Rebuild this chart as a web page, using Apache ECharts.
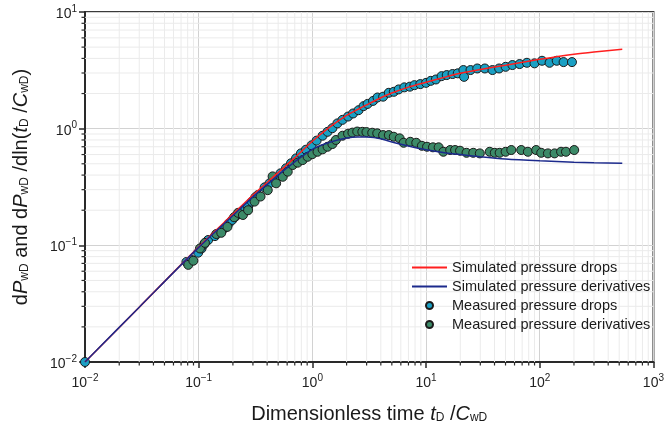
<!DOCTYPE html>
<html><head><meta charset="utf-8">
<script src="https://cdn.jsdelivr.net/npm/echarts@6/dist/echarts.min.js"></script>
<style>html,body{margin:0;padding:0;background:#fff}#c{width:667px;height:435px}</style>
</head><body><div id="c"></div><script>
// ---- data ----
const simX     = [0.01, 0.03, 0.1, 0.2, 0.3, 0.5, 0.7, 1, 1.4, 2, 2.5, 3, 4, 5, 7, 10, 15, 20, 30, 50, 100, 200, 300, 532];
const simDrop  = [0.01, 0.0295, 0.097, 0.185, 0.27, 0.42, 0.565, 0.78, 1.02, 1.3, 1.46, 1.6, 1.84, 2.02, 2.27, 2.5, 2.78, 2.98, 3.22, 3.5, 3.93, 4.35, 4.55, 4.79];
const simDeriv = [0.01, 0.0295, 0.096, 0.18, 0.26, 0.40, 0.52, 0.665, 0.76, 0.83, 0.85, 0.848, 0.82, 0.77, 0.71, 0.66, 0.62, 0.60, 0.575, 0.55, 0.53, 0.515, 0.51, 0.505];

const dropX = [0.01, 0.078, 0.0867, 0.099, 0.106, 0.112, 0.121, 0.139, 0.161, 0.172, 0.184, 0.197, 0.21, 0.225, 0.241, 0.257, 0.272, 0.294, 0.315, 0.332,
  0.38, 0.42, 0.465, 0.524, 0.586, 0.649, 0.718, 0.793, 0.877, 0.984, 1.09, 1.23, 1.36, 1.50,
  1.66, 1.84, 2.06, 2.28, 2.55, 2.82, 3.06, 3.42, 3.74, 4.19, 4.70, 5.20, 5.74, 6.44, 7.20, 7.9, 8.9, 10.0, 11.0, 12.2, 13.7, 15.2, 17.1, 19.0,
  21.3, 21.6, 24.6, 28.2, 32.9, 38.4, 43.9, 50.1, 57.5, 66.5, 77.1, 89.9, 104.7, 122, 141, 162, 192];
const dropY = [0.01, 0.072, 0.0748, 0.0865, 0.094, 0.1025, 0.111, 0.12, 0.135, 0.1425, 0.154, 0.165, 0.176, 0.185, 0.194, 0.204, 0.214, 0.237, 0.258, 0.27,
  0.314, 0.34, 0.375, 0.414, 0.457, 0.505, 0.556, 0.614, 0.66, 0.72, 0.79, 0.87, 0.94, 1.01,
  1.11, 1.19, 1.27, 1.35, 1.44, 1.56, 1.63, 1.73, 1.85, 1.88, 2.03, 2.07, 2.17, 2.26, 2.29, 2.36, 2.41, 2.47, 2.57, 2.64, 2.82, 2.88, 2.94, 2.98,
  3.18, 2.78, 3.18, 3.28, 3.28, 3.18, 3.28, 3.39, 3.51, 3.58, 3.67, 3.63, 3.82, 3.67, 3.82, 3.72, 3.72];

const derivX = [0.081, 0.0897, 0.1026, 0.1135, 0.143, 0.158, 0.179, 0.205, 0.222, 0.245, 0.272, 0.31, 0.35, 0.405, 0.447, 0.48, 0.549, 0.607, 0.671, 0.743, 0.821, 0.908, 1.0, 1.11, 1.23, 1.36, 1.5,
  1.61, 1.84, 2.06, 2.25, 2.48, 2.75, 2.99, 3.36, 3.72, 4.19, 4.70, 5.20, 5.86, 6.35, 7.26, 8.20, 9.19, 10.2, 11.5, 12.9, 14.2, 16.3, 18.0, 19.9, 22.7, 26.0, 29.7,
  36.3, 40.2, 44.4, 50.1, 56.2, 68.7, 78.6, 93.0, 103, 118, 135, 154, 170, 201];
const derivY = [0.068, 0.0738, 0.094, 0.105, 0.125, 0.128, 0.144, 0.174, 0.19, 0.182, 0.20, 0.237, 0.262, 0.297, 0.39, 0.34, 0.387, 0.428, 0.488, 0.511, 0.538, 0.574, 0.605, 0.634, 0.665, 0.70, 0.738,
  0.80, 0.87, 0.905, 0.925, 0.945, 0.94, 0.935, 0.923, 0.912, 0.881, 0.881, 0.853, 0.826, 0.757, 0.772, 0.757, 0.713, 0.70, 0.692, 0.692, 0.634, 0.656, 0.656, 0.647, 0.621, 0.621, 0.614,
  0.634, 0.621, 0.621, 0.634, 0.656, 0.656, 0.634, 0.656, 0.621, 0.614, 0.614, 0.634, 0.634, 0.656];

const xMajor = [0.01, 0.1, 1, 10, 100, 1000];
const yMajor = [0.01, 0.1, 1, 10];
const minorMult = [2, 3, 4, 5, 6, 7, 8, 9];

const seriesNames = ['Simulated pressure drops', 'Simulated pressure derivatives', 'Measured pressure drops', 'Measured pressure derivatives'];

// ---- helpers ----
const zip = (a, b) => a.map((v, i) => [v, b[i]]);
const minorOf = decs => { const out = []; decs.slice(0, -1).forEach(d => minorMult.forEach(m => out.push(+(d * m).toPrecision(6)))); return out; };
const xMinor = minorOf(xMajor);
const yMinor = minorOf(yMajor);

const FONT = 'Liberation Sans, Arial, sans-serif';
const supFmt = v => { const e = Math.round(Math.log10(v)); return '{b|10}{e|' + (e < 0 ? '\u2212' + (-e) : e) + '}'; };
const supRich = {
  b: { fontSize: 14, fontFamily: FONT, color: '#222', verticalAlign: 'bottom', lineHeight: 18 },
  e: { fontSize: 10, fontFamily: FONT, color: '#222', verticalAlign: 'bottom', padding: [0, 0, 7, 0] }
};
const nameRich = {
  m: { fontSize: 20, fontFamily: FONT, color: '#1a1a1a', verticalAlign: 'bottom', lineHeight: 26 },
  i: { fontSize: 20, fontFamily: FONT, color: '#1a1a1a', fontStyle: 'italic', verticalAlign: 'bottom', lineHeight: 26 },
  s: { fontSize: 12, fontFamily: FONT, color: '#1a1a1a', verticalAlign: 'bottom', lineHeight: 12 }
};

const chart = echarts.init(document.getElementById('c'), null, { renderer: 'canvas' });
chart.setOption({
  animation: false,
  backgroundColor: '#fff',
  grid: { left: 85, right: 9, top: 12, bottom: 73, show: true, borderColor: '#3a3a3a', borderWidth: 2, backgroundColor: 'transparent' },
  legend: {
    data: [
      { name: seriesNames[0], itemStyle: { opacity: 0 } },
      { name: seriesNames[1], itemStyle: { opacity: 0 } },
      { name: seriesNames[2] },
      { name: seriesNames[3] }
    ],
    orient: 'vertical', left: 406, top: 253,
    itemWidth: 35, itemHeight: 7, itemGap: 0,
    textStyle: { fontSize: 14.5, fontFamily: FONT, color: '#1a1a1a', lineHeight: 19 }
  },
  xAxis: {
    type: 'log', logBase: 10, min: 0.01, max: 1000,
    name: '{m|Dimensionless time }{i|t}{s|D}{m| /}{i|C}{s|wD}',
    nameLocation: 'middle', nameGap: 36,
    nameTextStyle: { rich: nameRich },
    axisLine: { show: true, onZero: false, lineStyle: { color: '#2a2a2a', width: 2 } },
    axisTick: { show: true, inside: false, length: 6, lineStyle: { color: '#2a2a2a', width: 1.5 } },
    axisLabel: { margin: 10, formatter: supFmt, rich: supRich },
    splitLine: { show: true, lineStyle: { color: '#d2d2d2', width: 1 } }
  },
  yAxis: {
    type: 'log', logBase: 10, min: 0.01, max: 10,
    name: '{m|d}{i|P}{s|wD}{m| and d}{i|P}{s|wD}{m| /dln(}{i|t}{s|D}{m| /}{i|C}{s|wD}{m|)}',
    nameLocation: 'middle', nameGap: 54, nameRotate: 90,
    nameTextStyle: { rich: nameRich },
    axisLine: { show: true, onZero: false, lineStyle: { color: '#2a2a2a', width: 2 } },
    axisTick: { show: true, inside: false, length: 6, lineStyle: { color: '#2a2a2a', width: 1.5 } },
    axisLabel: { margin: 8, formatter: supFmt, rich: supRich },
    splitLine: { show: true, lineStyle: { color: '#d2d2d2', width: 1 } }
  },
  series: [
    {
      name: seriesNames[0], type: 'line', data: zip(simX, simDrop), showSymbol: false, symbol: 'none', smooth: 0.25, z: 4,
      lineStyle: { color: '#ff1f1f', width: 1.5 }, itemStyle: { color: '#ff1f1f' }
    },
    {
      name: seriesNames[1], type: 'line', data: zip(simX, simDeriv), showSymbol: false, symbol: 'none', smooth: 0.25, z: 4,
      lineStyle: { color: '#1c2a8c', width: 1.5 }, itemStyle: { color: '#1c2a8c' }
    },
    {
      name: seriesNames[2], type: 'scatter', data: zip(dropX, dropY), symbol: 'circle', symbolSize: 9, z: 3,
      itemStyle: { color: '#1aa0c4', borderColor: '#1a1a1a', borderWidth: 1, opacity: 1 }
    },
    {
      name: seriesNames[3], type: 'scatter', data: zip(derivX, derivY), symbol: 'circle', symbolSize: 9, z: 3,
      itemStyle: { color: '#3c8a68', borderColor: '#1a1a1a', borderWidth: 1, opacity: 1 }
    },
    {
      name: 'minor', type: 'custom', z: 1, silent: true, clip: false,
      data: [[1, 1]],
      renderItem: (params, api) => {
        const cs = params.coordSys;
        const top = cs.y, bottom = cs.y + cs.height, left = cs.x, right = cs.x + cs.width;
        const children = [];
        xMinor.forEach(v => {
          const p = api.coord([v, 1])[0];
          children.push({ type: 'line', shape: { x1: p, y1: top, x2: p, y2: bottom }, style: { stroke: '#ebebeb', lineWidth: 1 } });
          children.push({ type: 'line', shape: { x1: p, y1: bottom, x2: p, y2: bottom + 3.5 }, style: { stroke: '#2a2a2a', lineWidth: 1.2 } });
        });
        yMinor.forEach(v => {
          const p = api.coord([1, v])[1];
          children.push({ type: 'line', shape: { x1: left, y1: p, x2: right, y2: p }, style: { stroke: '#ebebeb', lineWidth: 1 } });
          children.push({ type: 'line', shape: { x1: left - 3.5, y1: p, x2: left, y2: p }, style: { stroke: '#2a2a2a', lineWidth: 1.2 } });
        });
        return { type: 'group', children };
      }
    }
  ]
});
</script></body></html>
